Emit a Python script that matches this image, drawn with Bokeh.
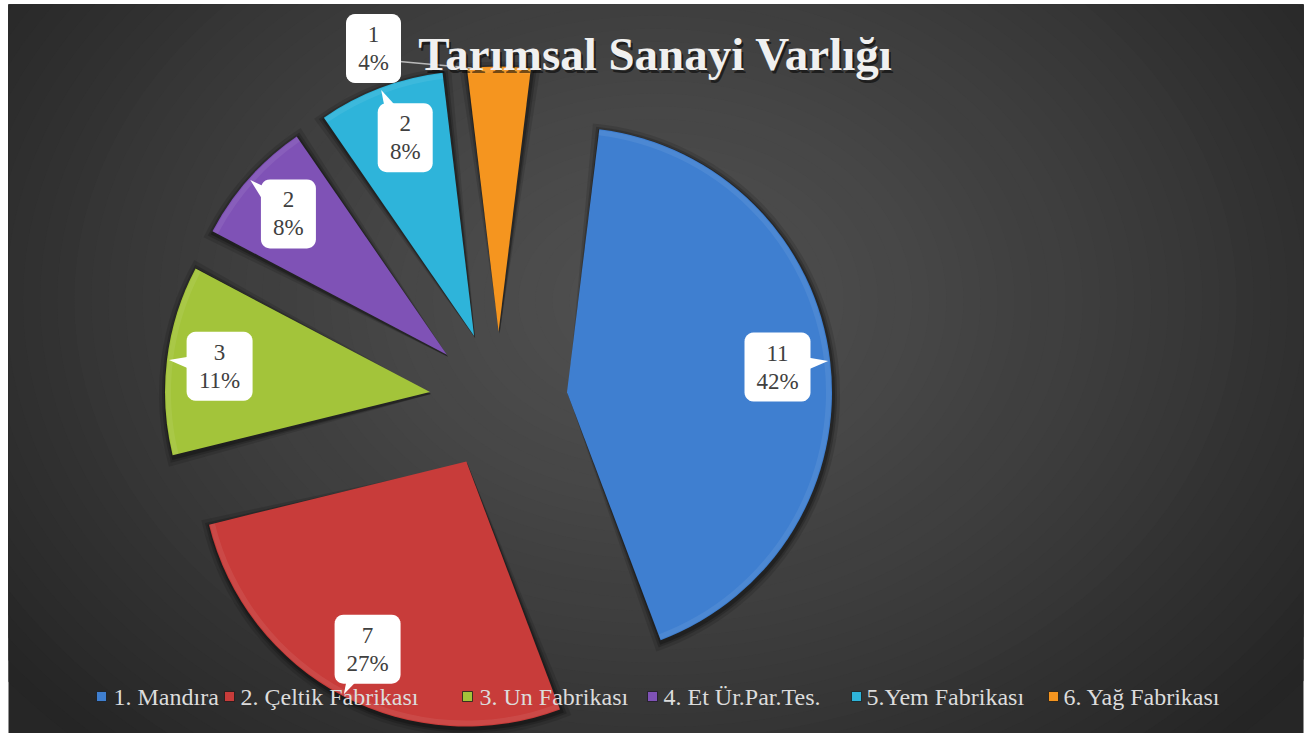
import numpy as np
from bokeh.plotting import figure
from bokeh.models import ColumnDataSource
from bokeh.core.properties import value
from bokeh.embed import file_html
from bokeh.resources import INLINE

# ---------------- data ----------------
categories = ["1. Mandıra", "2. Çeltik Fabrikası", "3. Un Fabrikası",
              "4. Et Ür.Par.Tes.", "5.Yem Fabrikası", "6. Yağ Fabrikası"]
values = [11, 7, 3, 2, 2, 1]
percent_labels = ["42%", "27%", "11%", "8%", "8%", "4%"]
colors = ["#3f7fd0", "#c83c3a", "#a3c43a", "#7f52b6", "#2eb4da", "#f5951f"]
title_text = "Tarımsal Sanayi Varlığı"

# ---------------- layout ----------------
FW, FH = 1295, 729          # dark frame size
SERIF = "Liberation Serif"
p = figure(width=1311, height=733, x_range=(0, FW), y_range=(0, FH),
           output_backend="svg", toolbar_location=None,
           min_border_left=8, min_border_right=8, min_border_top=4, min_border_bottom=0,
           background_fill_color="#262626", border_fill_color="white",
           outline_line_color=None)
p.axis.visible = False
p.grid.visible = False


def sx(x):  # reference screen x -> data x
    return x - 8


def sy(y):  # reference screen y -> data y
    return 733 - y


# background radial gradient
c_in = np.array([0x50, 0x50, 0x50])
c_out = np.array([0x25, 0x25, 0x25])
N = 48
rx, ry, bcol = [], [], []
for k in range(N):
    t = 1.0 - k / N
    col = c_in + (c_out - c_in) * (t ** 1.3)
    bcol.append("#%02x%02x%02x" % tuple(int(round(c)) for c in col))
    rx.append(2 * 820 * t + 1)
    ry.append(2 * 620 * t + 1)
p.ellipse(x=[sx(655)] * N, y=[sy(300)] * N, width=rx, height=ry,
          fill_color=bcol, line_color=None)

# pie geometry
total = float(sum(values))
R = 265.0
EXPL = 69.0
CX, CY = sx(498), sy(400)
start_deg = 83.0
starts, ends, mids = [], [], []
a = start_deg
for v in values:
    span = 360.0 * v / total
    starts.append(a)
    ends.append(a - span)
    mids.append(a - span / 2)
    a -= span
mid_r = np.radians(mids)
ax_ = CX + EXPL * np.cos(mid_r)
ay_ = CY + EXPL * np.sin(mid_r)

src = ColumnDataSource(dict(x=ax_, y=ay_,
                            s=np.radians(starts), e=np.radians(ends),
                            color=colors))
# soft shadow halo
for grow, alpha in [(7, 0.12), (4, 0.18), (2, 0.25)]:
    p.wedge(x=ax_ + 1, y=ay_ - 2, radius=R + grow,
            start_angle=np.radians(np.array(starts) + grow * 0.25),
            end_angle=np.radians(np.array(ends) - grow * 0.25), direction="clock",
            fill_color="black", fill_alpha=alpha, line_color=None)
# slices
p.wedge(x="x", y="y", radius=R, start_angle="s", end_angle="e", direction="clock",
        fill_color="color", line_color=None, source=src)
# subtle rim highlight
p.annular_wedge(x="x", y="y", inner_radius=R - 6, outer_radius=R - 1,
                start_angle="s", end_angle="e", direction="clock",
                fill_color="white", fill_alpha=0.07, line_color=None, source=src)


def rounded_rect(cx, cy, w, h, r=9, n=6):
    xs, ys = [], []
    corners = [(cx + w / 2 - r, cy + h / 2 - r, 0),
               (cx - w / 2 + r, cy + h / 2 - r, 90),
               (cx - w / 2 + r, cy - h / 2 + r, 180),
               (cx + w / 2 - r, cy - h / 2 + r, 270)]
    for (ccx, ccy, a0) in corners:
        for j in range(n + 1):
            ang = np.radians(a0 + 90.0 * j / n)
            xs.append(ccx + r * np.cos(ang))
            ys.append(ccy + r * np.sin(ang))
    return xs, ys


LABEL_DIST = 212.0
box_xs, box_ys, tri_xs, tri_ys = [], [], [], []
lab_x, lab_y = [], []
for i, v in enumerate(values):
    if i == 5:
        bxc, byc = sx(373), sy(48)
    else:
        bxc = ax_[i] + LABEL_DIST * np.cos(mid_r[i])
        byc = ay_[i] + LABEL_DIST * np.sin(mid_r[i])
        if i == 4:
            bxc += 6
    w = 66 if len(percent_labels[i]) >= 3 else 55
    hh = 69
    xs, ys = rounded_rect(bxc, byc, w, hh)
    box_xs.append(xs)
    box_ys.append(ys)
    lab_x.append(bxc)
    lab_y.append(byc)
    if i < 5:
        tx = ax_[i] + (R - 2) * np.cos(mid_r[i])
        ty = ay_[i] + (R - 2) * np.sin(mid_r[i])
        dx, dy = tx - bxc, ty - byc
        L = np.hypot(dx, dy)
        px, py = -dy / L, dx / L
        hw = 15
        tri_xs.append([bxc + px * hw, tx, bxc - px * hw])
        tri_ys.append([byc + py * hw, ty, byc - py * hw])

# leader line for the small slice
i5 = 5
lead_end_ang = np.radians(starts[i5] - 1.0)
p.line(x=[lab_x[i5] + 26, ax_[i5] + R * np.cos(lead_end_ang)],
       y=[lab_y[i5] - 13, ay_[i5] + R * np.sin(lead_end_ang)],
       line_color="#d8d8d8", line_width=1.5, line_alpha=0.8)

p.patches(xs=tri_xs, ys=tri_ys, fill_color="white", line_color=None)
p.patches(xs=box_xs, ys=box_ys, fill_color="white", line_color=None)

p.text(x=lab_x, y=[yy + 14 for yy in lab_y], text=[str(v) for v in values],
       text_font=value(SERIF), text_font_size="23px", text_color="#404040",
       text_align="center", text_baseline="middle")
p.text(x=lab_x, y=[yy - 14 for yy in lab_y], text=percent_labels,
       text_font=value(SERIF), text_font_size="23px", text_color="#404040",
       text_align="center", text_baseline="middle")

# title with shadow
ty0 = sy(53)
p.text(x=[sx(655) + 2], y=[ty0 - 3], text=[title_text], text_font=value(SERIF),
       text_font_size="47px", text_font_style="bold", text_color="black",
       text_alpha=0.55, text_align="center", text_baseline="middle")
p.text(x=[sx(655)], y=[ty0], text=[title_text], text_font=value(SERIF),
       text_font_size="47px", text_font_style="bold", text_color="#f0f0f0",
       text_align="center", text_baseline="middle")

# legend (manual, horizontal)
legend_marker_sx = [101, 229, 467, 652, 856, 1053]
legend_text_sx = [113, 240, 479, 663, 866, 1063]
ly = sy(696)
p.scatter(x=[sx(v) for v in legend_marker_sx], y=[ly] * 6, marker="square", size=10,
          fill_color=colors, line_color="#1a1a1a", line_width=0.8)
p.text(x=[sx(v) for v in legend_text_sx], y=[ly] * 6, text=categories,
       text_font=value(SERIF), text_font_size="24px", text_color="#dcdcdc",
       text_align="left", text_baseline="middle")

open("out.html", "w").write(file_html(p, INLINE))
